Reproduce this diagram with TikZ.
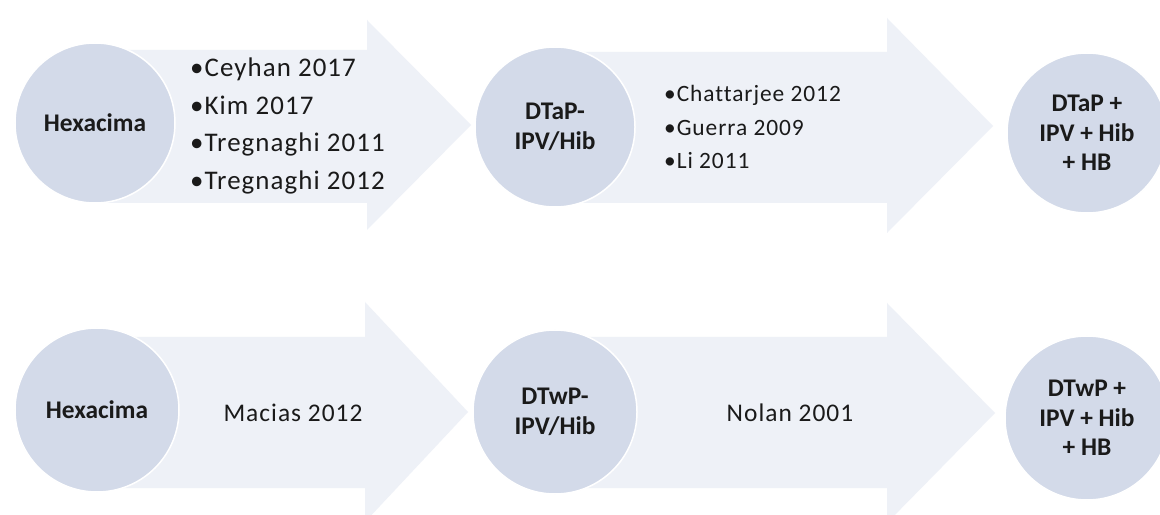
\documentclass[tikz,border=0pt]{standalone}
\usepackage{fontspec}
\setmainfont{Carlito}[Ligatures=NoCommon]
\newfontfamily\spaced{Carlito}[Ligatures=NoCommon,LetterSpace=4]
\definecolor{bubfill}{HTML}{D3DAE9}
\definecolor{arrfill}{HTML}{EEF1F7}
\definecolor{txt}{HTML}{1A1A1A}
\begin{document}
\begin{tikzpicture}[x=1bp,y=-1bp,
  bub/.style={circle,fill=bubfill,draw=white,line width=1.5bp,inner sep=0pt,align=center,text=txt,font=\bfseries\fontsize{25.5}{29.5}\selectfont},
  arrbody/.style={fill=arrfill,draw=none},
  lst/.style={anchor=west,align=left,inner sep=0pt,text=txt},
  lbl/.style={inner sep=0pt,text=txt,font=\spaced\fontsize{25.5}{30}\selectfont}]
\useasboundingbox[fill=white] (0,0) rectangle (1160,515);
% ---- top row arrows
\fill[arrbody] (95,50) -- (367,50) -- (367,20) -- (471,125) -- (367,230) -- (367,203) -- (95,203) -- cycle;
\fill[arrbody] (555,52) -- (887,52) -- (887,18) -- (993,126) -- (887,233) -- (887,203) -- (555,203) -- cycle;
% ---- bottom row arrows
\fill[arrbody] (97,337) -- (365,337) -- (365,302) -- (468,412) -- (365,522) -- (365,488) -- (97,488) -- cycle;
\fill[arrbody] (555,337) -- (887,337) -- (887,303) -- (995,413) -- (887,523) -- (887,488) -- (555,488) -- cycle;
% ---- top row circles
\node[bub,minimum size=160bp] (a1) at (95,123) {Hexacima};
\node[bub,minimum size=160bp] (a2) at (555,127) {DTaP-\\IPV/Hib};
\node[bub,minimum size=160bp] (a3) at (1087,133) {DTaP +\\IPV + Hib\\+ HB};
% ---- bottom row circles
\node[bub,minimum size=164bp] (b1) at (97,410) {Hexacima};
\node[bub,minimum size=164bp] (b2) at (555,412) {DTwP-\\IPV/Hib};
\node[bub,minimum size=164bp] (b3) at (1087,418) {DTwP +\\IPV + Hib\\+ HB};
% ---- lists
\node[lst,font=\spaced\fontsize{27}{37.5}\selectfont] (l1) at (190,126)
  {•Ceyhan 2017\\•Kim 2017\\•Tregnaghi 2011\\•Tregnaghi 2012};
\node[lst,font=\spaced\fontsize{23.5}{33.5}\selectfont] (l2) at (664,127)
  {•Chattarjee 2012\\•Guerra 2009\\•Li 2011};
\node[lbl] (m1) at (293,413) {Macias 2012};
\node[lbl] (m2) at (790,413) {Nolan 2001};
\end{tikzpicture}
\end{document}
